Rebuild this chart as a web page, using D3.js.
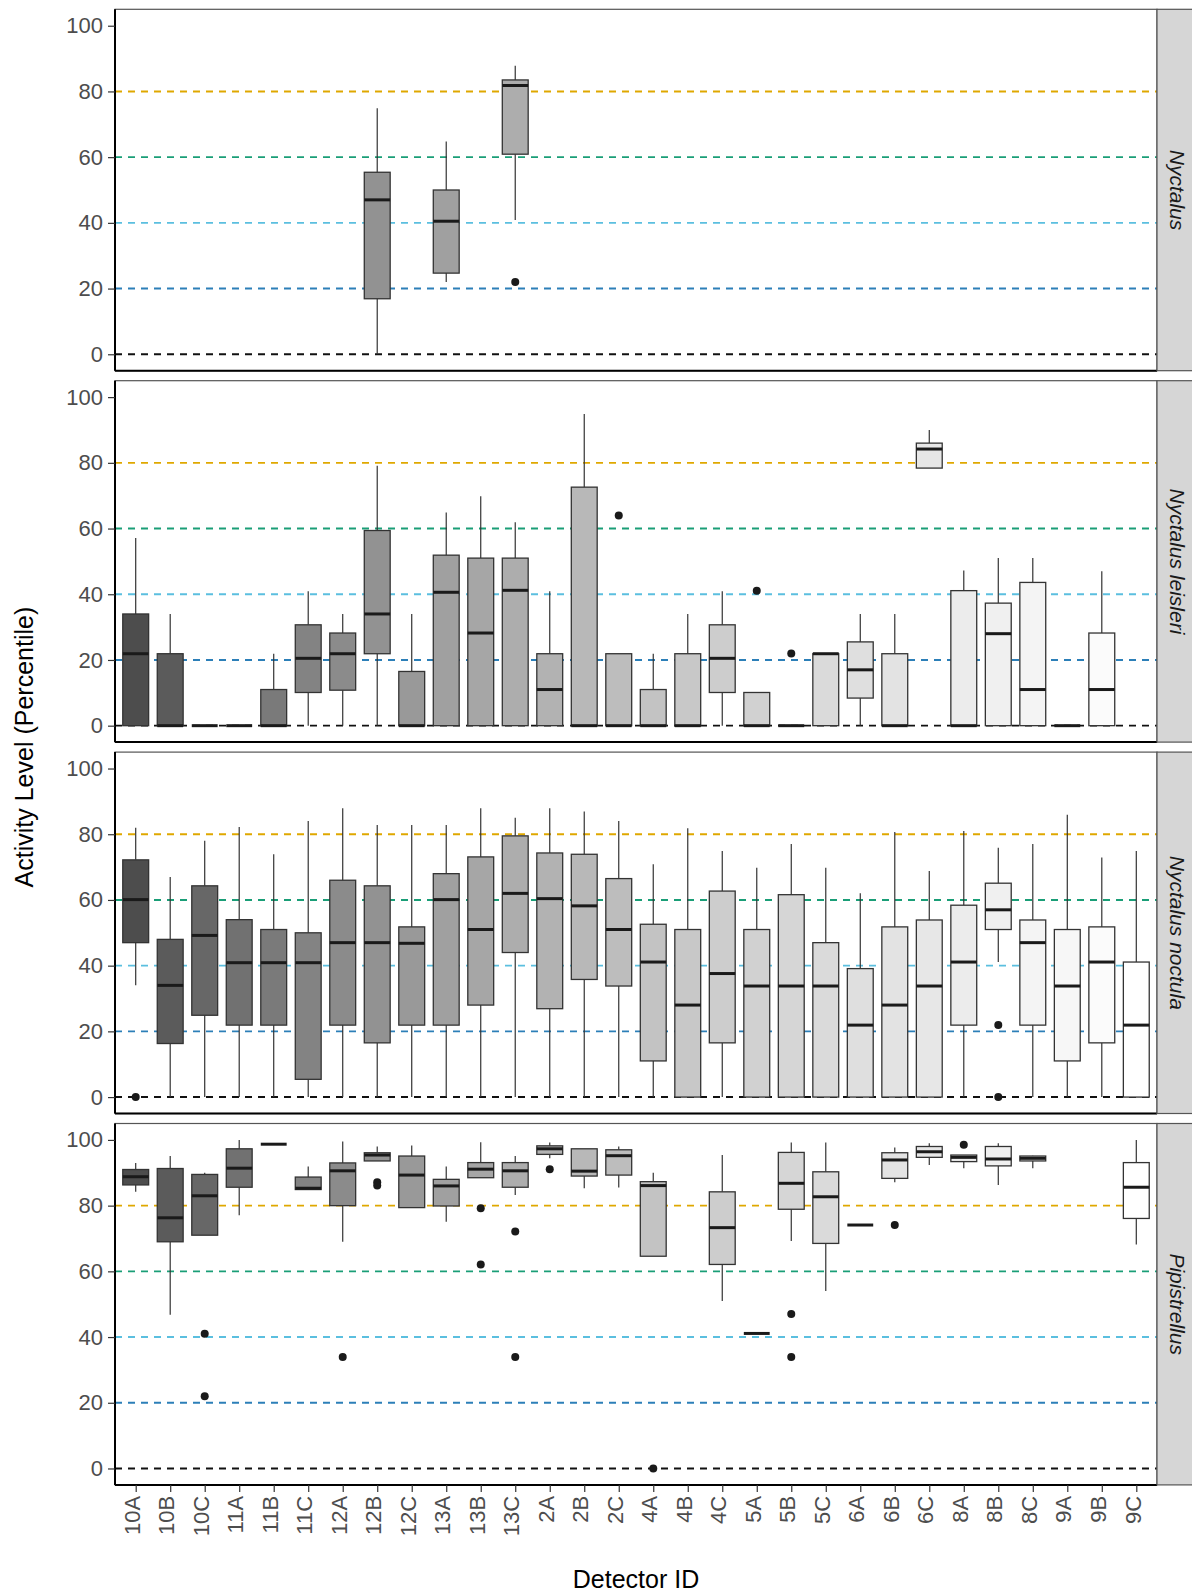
<!DOCTYPE html>
<html>
<head>
<meta charset="utf-8">
<script src="https://cdn.jsdelivr.net/npm/d3@7"></script>
<style>
  body { margin: 0; background: #fff; }
  svg { display: block; font-family: "Liberation Sans", Arial, sans-serif; }
  .tick-label { fill: #4d4d4d; font-size: 22px; }
  .strip-label { fill: #1a1a1a; font-size: 21px; font-style: italic; }
  .axis-title { fill: #000; font-size: 25px; }
</style>
</head>
<body>
<div id="chart"></div>
<script>
const detectors = ["10A","10B","10C","11A","11B","11C","12A","12B","12C","13A","13B","13C",
  "2A","2B","2C","4A","4B","4C","5A","5B","5C","6A","6B","6C","8A","8B","8C","9A","9B","9C"];
const species = ["Nyctalus", "Nyctalus leisleri", "Nyctalus noctula", "Pipistrellus"];
const yTicks = [0, 20, 40, 60, 80, 100];
const thresholds = [0, 20, 40, 60, 80];
const thresholdColours = ["#111111", "#2c7fb8", "#5bbfdf", "#1a9e77", "#dfa800"];

// [detector, lower whisker, q1, median, q3, upper whisker]
const nyctalusBoxes = [
  ["12B", 0, 16.9, 47, 55.4, 74.9],
  ["13A", 22, 24.7, 40.5, 50, 64.8],
  ["13C", 40.9, 60.9, 81.8, 83.5, 87.8]
];
const nyctalusOutliers = [["13C", 22]];

const leisleriBoxes = [
  ["10A", 0, 0, 21.9, 34, 57.1],
  ["10B", 0, 0, 0, 21.9, 34],
  ["10C", 0, 0, 0, 0, 0],
  ["11A", 0, 0, 0, 0, 0],
  ["11B", 0, 0, 0, 11, 21.9],
  ["11C", 0, 10.1, 20.5, 30.7, 40.9],
  ["12A", 0, 10.8, 21.9, 28.2, 34],
  ["12B", 0, 21.9, 34, 59.4, 79.1],
  ["12C", 0, 0, 0, 16.5, 34],
  ["13A", 0, 0, 40.6, 51.9, 64.9],
  ["13B", 0, 0, 28.2, 51, 69.8],
  ["13C", 0, 0, 41.2, 51, 61.9],
  ["2A", 0, 0, 11, 21.9, 40.9],
  ["2B", 0, 0, 0, 72.6, 94.9],
  ["2C", 0, 0, 0, 21.9, 21.9],
  ["4A", 0, 0, 0, 11, 21.9],
  ["4B", 0, 0, 0, 21.9, 34],
  ["4C", 0, 10.1, 20.5, 30.7, 40.9],
  ["5A", 0, 0, 0, 10.1, 10.1],
  ["5B", 0, 0, 0, 0, 0],
  ["5C", 0, 0, 21.9, 21.9, 21.9],
  ["6A", 0, 8.4, 17, 25.5, 34],
  ["6B", 0, 0, 0, 21.9, 34],
  ["6C", 78.4, 78.4, 84.2, 86, 90],
  ["8A", 0, 0, 0, 41.1, 47.2],
  ["8B", 0, 0, 28, 37.3, 51],
  ["8C", 0, 0, 11, 43.6, 51],
  ["9A", 0, 0, 0, 0, 0],
  ["9B", 0, 0, 11, 28.2, 47]
];
const leisleriOutliers = [["2C", 64], ["5A", 41.1], ["5B", 22]];

const noctulaBoxes = [
  ["10A", 34, 47, 60.1, 72.2, 82],
  ["10B", 0, 16.3, 34, 48, 67],
  ["10C", 0, 24.9, 49.2, 64.3, 78],
  ["11A", 0, 21.9, 40.9, 54, 82.2],
  ["11B", 0, 21.9, 40.9, 51, 73.9],
  ["11C", 0, 5.4, 40.9, 50, 84],
  ["12A", 0, 21.9, 47, 66, 87.9],
  ["12B", 0, 16.5, 47, 64.3, 82.8],
  ["12C", 0, 21.9, 46.8, 51.8, 82.8],
  ["13A", 0, 21.9, 60.1, 68, 82.8],
  ["13B", 0, 28, 51, 73.1, 87.9],
  ["13C", 0, 44, 62, 79.5, 85],
  ["2A", 0, 26.9, 60.4, 74.3, 87.9],
  ["2B", 0, 35.8, 58.2, 73.9, 86.9],
  ["2C", 0, 33.8, 51, 66.5, 84],
  ["4A", 0, 11, 41.1, 52.6, 70.9],
  ["4B", 0, 0, 28, 51, 81.8],
  ["4C", 0, 16.5, 37.6, 62.7, 74.9],
  ["5A", 0, 0, 33.8, 51, 69.8],
  ["5B", 0, 0, 33.8, 61.6, 77],
  ["5C", 0, 0, 33.8, 47, 69.8],
  ["6A", 0, 0, 21.9, 39.1, 62],
  ["6B", 0, 0, 28, 51.8, 80.7],
  ["6C", 0, 0, 33.8, 53.9, 68.8],
  ["8A", 0, 21.9, 41.1, 58.4, 81],
  ["8B", 41.1, 51, 57, 65.1, 75.9],
  ["8C", 0, 21.9, 47, 53.9, 77],
  ["9A", 0, 11, 33.8, 51, 85.9],
  ["9B", 0, 16.5, 41.1, 51.8, 72.9],
  ["9C", 0, 0, 21.9, 41.1, 74.9]
];
const noctulaOutliers = [["10A", 0], ["8B", 21.9], ["8B", 0]];

const pipistrellusBoxes = [
  ["10A", 84.2, 86.3, 88.8, 91, 93],
  ["10B", 46.8, 69, 76.3, 91.3, 95.1],
  ["10C", 71, 71, 83, 89.5, 90],
  ["11A", 77.1, 85.6, 91.4, 97.3, 100],
  ["11B", 98.7, 98.7, 98.7, 98.7, 98.7],
  ["11C", 84.9, 84.9, 85.3, 88.7, 91.9],
  ["12A", 69, 80, 90.6, 93, 99.5],
  ["12B", 93.6, 93.6, 95.4, 96.1, 98],
  ["12C", 79.4, 79.4, 89.3, 95.1, 98.3],
  ["13A", 75.1, 79.9, 86, 88, 91.9],
  ["13B", 88.5, 88.5, 91.1, 93.1, 99.3],
  ["13C", 83.2, 85.6, 90.6, 93.1, 95.1],
  ["2A", 94.4, 95.6, 97.3, 98.2, 99.2],
  ["2B", 85.3, 89, 90.5, 97.3, 97.3],
  ["2C", 85.5, 89.3, 95.2, 97, 98],
  ["4A", 64.6, 64.6, 86.1, 87.3, 90],
  ["4C", 51, 62.1, 73.3, 84.2, 95.4],
  ["5A", 41.1, 41.1, 41.1, 41.1, 41.1],
  ["5B", 69.2, 78.9, 86.8, 96.2, 99.2],
  ["5C", 54, 68.5, 82.7, 90.3, 99.2],
  ["6A", 74.1, 74.1, 74.1, 74.1, 74.1],
  ["6B", 87.1, 88.3, 93.9, 96.1, 97.7],
  ["6C", 92.4, 94.7, 96.4, 98, 99],
  ["8A", 91.4, 93.4, 94.7, 95.4, 95.4],
  ["8B", 86.3, 92.1, 94.2, 98, 99],
  ["8C", 91.4, 93.6, 94.4, 95.1, 95.2],
  ["9C", 68.2, 76.1, 85.6, 93.1, 100]
];
const pipistrellusOutliers = [
  ["10C", 41], ["10C", 22], ["12A", 33.9], ["12B", 87.1], ["12B", 86.1],
  ["13B", 79.2], ["13B", 62.1], ["13C", 72.1], ["13C", 33.9], ["2A", 91.1],
  ["4A", 0], ["5B", 47], ["5B", 33.9], ["6B", 74.1], ["8A", 98.5]
];

const panels = [
  {name: species[0], boxes: nyctalusBoxes, outliers: nyctalusOutliers},
  {name: species[1], boxes: leisleriBoxes, outliers: leisleriOutliers},
  {name: species[2], boxes: noctulaBoxes, outliers: noctulaOutliers},
  {name: species[3], boxes: pipistrellusBoxes, outliers: pipistrellusOutliers}
];

const width = 1192, height = 1595;
const left = 115, right = 1157,
      top0 = 9.3, panelH = 361.4, gap = 10,
      stripW = 38;

const svg = d3.select("#chart").append("svg")
    .attr("width", width)
    .attr("height", height);

const x = d3.scalePoint().domain(detectors).range([left, right]).padding(0.6);
const boxW = x.step() * 0.75;

// grey fill by detector, gamma-spaced like grey.colors()
const gStart = Math.pow(0.3, 2.2), gEnd = 1;
const fill = d3.scaleOrdinal().domain(detectors).range(detectors.map((d, i) => {
    const v = Math.pow(gStart + (gEnd - gStart) * i / (detectors.length - 1), 1 / 2.2);
    const c = Math.round(v * 255);
    return d3.rgb(c, c, c).formatHex();
}));

panels.forEach((p, i) => {
    const top = top0 + i * (panelH + gap), bottom = top + panelH;
    const y = d3.scaleLinear().domain([-5, 105]).range([bottom, top]);
    const g = svg.append("g").attr("class", "panel");

    g.append("rect")
        .attr("x", left).attr("y", top)
        .attr("width", right - left).attr("height", panelH)
        .attr("fill", "#fff");

    // threshold lines
    g.selectAll(".threshold")
        .data(thresholds)
        .enter()
        .append("line")
        .attr("class", "threshold")
        .attr("x1", left).attr("x2", right)
        .attr("y1", d => y(d)).attr("y2", d => y(d))
        .attr("stroke", (d, k) => thresholdColours[k])
        .attr("stroke-width", 1.9)
        .attr("stroke-dasharray", "7,6");

    const box = g.selectAll(".box")
        .data(p.boxes)
        .enter()
        .append("g")
        .attr("class", "box")
        .attr("transform", d => `translate(${x(d[0])},0)`);

    box.append("line")
        .attr("x1", 0).attr("x2", 0)
        .attr("y1", d => y(d[5])).attr("y2", d => y(d[4]))
        .attr("stroke", "#333").attr("stroke-width", 1.2);
    box.append("line")
        .attr("x1", 0).attr("x2", 0)
        .attr("y1", d => y(d[2])).attr("y2", d => y(d[1]))
        .attr("stroke", "#333").attr("stroke-width", 1.2);
    box.append("rect")
        .attr("x", -boxW / 2).attr("width", boxW)
        .attr("y", d => y(d[4]))
        .attr("height", d => y(d[2]) - y(d[4]))
        .attr("fill", d => fill(d[0]))
        .attr("stroke", "#333").attr("stroke-width", 1.3);
    box.append("line")
        .attr("x1", -boxW / 2).attr("x2", boxW / 2)
        .attr("y1", d => y(d[3])).attr("y2", d => y(d[3]))
        .attr("stroke", "#1a1a1a").attr("stroke-width", 3);

    g.selectAll(".outlier")
        .data(p.outliers)
        .enter()
        .append("circle")
        .attr("class", "outlier")
        .attr("cx", d => x(d[0]))
        .attr("cy", d => y(d[1]))
        .attr("r", 4)
        .attr("fill", "#1a1a1a");

    // border + axis lines
    g.append("rect")
        .attr("x", left).attr("y", top)
        .attr("width", right - left).attr("height", panelH)
        .attr("fill", "none").attr("stroke", "#555").attr("stroke-width", 1.2);
    g.append("line")
        .attr("x1", left).attr("x2", left).attr("y1", top).attr("y2", bottom)
        .attr("stroke", "#000").attr("stroke-width", 2);
    g.append("line")
        .attr("x1", left).attr("x2", right).attr("y1", bottom).attr("y2", bottom)
        .attr("stroke", "#000").attr("stroke-width", 2);

    // strip
    g.append("rect")
        .attr("x", right).attr("y", top)
        .attr("width", stripW).attr("height", panelH)
        .attr("fill", "#d6d6d6").attr("stroke", "#555").attr("stroke-width", 1.2);
    g.append("text")
        .attr("class", "strip-label")
        .attr("transform", `translate(${right + stripW / 2 + 1},${(top + bottom) / 2}) rotate(90)`)
        .attr("text-anchor", "middle")
        .attr("dy", "0.35em")
        .text(p.name);

    // y axis
    const yAxis = g.append("g")
        .attr("transform", `translate(${left},0)`)
        .call(d3.axisLeft(y).tickValues(yTicks).tickSize(7).tickPadding(5));
    yAxis.select(".domain").remove();
    yAxis.selectAll(".tick line").attr("stroke", "#333").attr("stroke-width", 1.2);
    yAxis.selectAll(".tick text").attr("class", "tick-label");
    yAxis.attr("font-size", null).attr("font-family", null);

    if (i === panels.length - 1) {
        const xAxis = g.append("g")
            .attr("transform", `translate(0,${bottom})`)
            .call(d3.axisBottom(x).tickSize(7));
        xAxis.select(".domain").remove();
        xAxis.attr("font-size", null).attr("font-family", null);
        xAxis.selectAll(".tick line").attr("stroke", "#333").attr("stroke-width", 1.2);
        xAxis.selectAll(".tick text")
            .attr("class", "tick-label")
            .attr("x", 0).attr("y", 0)
            .attr("dy", "0.35em")
            .attr("text-anchor", "end")
            .attr("transform", "translate(-4,11) rotate(-90)");
    }
});

svg.append("text")
    .attr("class", "axis-title")
    .attr("transform", `translate(33,${top0 + (4 * panelH + 3 * gap) / 2}) rotate(-90)`)
    .attr("text-anchor", "middle")
    .text("Activity Level (Percentile)");

svg.append("text")
    .attr("class", "axis-title")
    .attr("x", (left + right) / 2)
    .attr("y", 1588)
    .attr("text-anchor", "middle")
    .text("Detector ID");
</script>
</body>
</html>
